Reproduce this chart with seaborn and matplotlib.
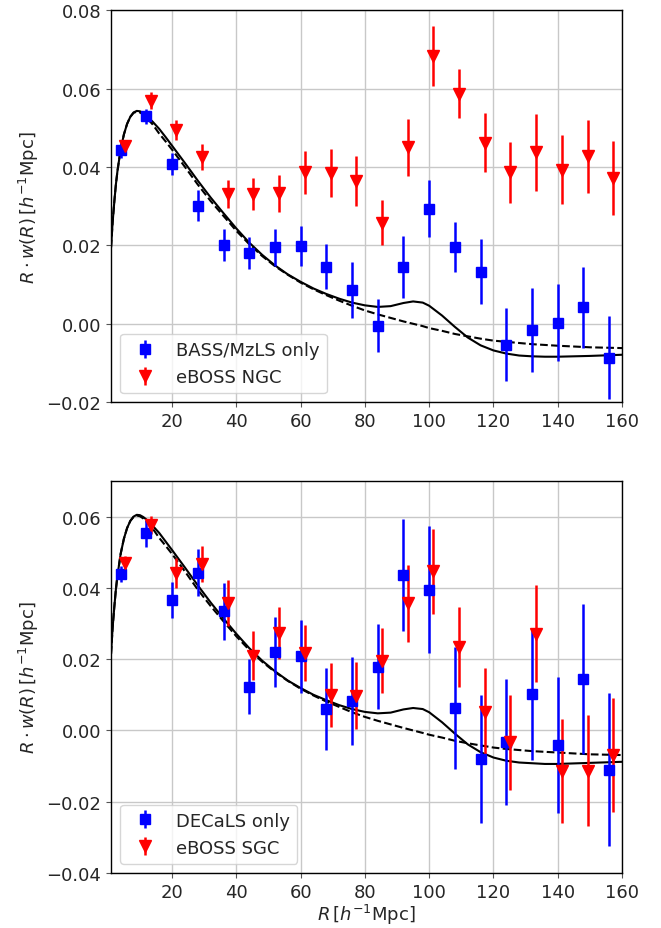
import matplotlib
matplotlib.use("Agg")
import matplotlib.pyplot as plt
import seaborn as sns
import numpy as np
import pandas as pd

# separation bins (blue points), red points are shifted slightly to the right
r_bins = [4, 12, 20, 28, 36, 44, 52, 60, 68, 76, 84, 92, 100, 108, 116, 124, 132, 140, 148, 156]
r_shift = 1.3

# top panel: BASS/MzLS only vs eBOSS NGC
bass_w = [0.0444, 0.0529, 0.0407, 0.0301, 0.0201, 0.0180, 0.0195, 0.0199, 0.0146, 0.0086,
          -0.0005, 0.0146, 0.0294, 0.0196, 0.0133, -0.0053, -0.0016, 0.0003, 0.0042, -0.0087]
bass_err = [0.0020, 0.0020, 0.0028, 0.0039, 0.0040, 0.0041, 0.0047, 0.0051, 0.0058, 0.0071,
            0.0068, 0.0079, 0.0072, 0.0064, 0.0082, 0.0093, 0.0108, 0.0098, 0.0103, 0.0106]
ngc_w = [0.0454, 0.0569, 0.0495, 0.0425, 0.0331, 0.0331, 0.0333, 0.0386, 0.0385, 0.0365,
         0.0258, 0.0450, 0.0683, 0.0587, 0.0462, 0.0386, 0.0437, 0.0393, 0.0427, 0.0371]
ngc_err = [0.0010, 0.0021, 0.0026, 0.0034, 0.0036, 0.0042, 0.0047, 0.0054, 0.0061, 0.0064,
           0.0057, 0.0072, 0.0076, 0.0062, 0.0075, 0.0077, 0.0099, 0.0088, 0.0093, 0.0094]

# bottom panel: DECaLS only vs eBOSS SGC
decals_w = [0.0439, 0.0553, 0.0366, 0.0443, 0.0334, 0.0123, 0.0219, 0.0208, 0.0060, 0.0083,
            0.0179, 0.0436, 0.0395, 0.0064, -0.0080, -0.0033, 0.0101, -0.0041, 0.0144, -0.0110]
decals_err = [0.0023, 0.0037, 0.0050, 0.0066, 0.0080, 0.0077, 0.0098, 0.0103, 0.0116, 0.0123,
              0.0119, 0.0156, 0.0178, 0.0171, 0.0180, 0.0177, 0.0184, 0.0190, 0.0211, 0.0215]
sgc_w = [0.0470, 0.0576, 0.0442, 0.0467, 0.0357, 0.0210, 0.0273, 0.0217, 0.0100, 0.0098,
         0.0196, 0.0357, 0.0446, 0.0233, 0.0053, -0.0033, 0.0272, -0.0113, -0.0113, -0.0069]
sgc_err = [0.0020, 0.0025, 0.0041, 0.0050, 0.0064, 0.0068, 0.0072, 0.0079, 0.0089, 0.0095,
           0.0092, 0.0108, 0.0119, 0.0112, 0.0122, 0.0133, 0.0137, 0.0146, 0.0155, 0.0161]

# model curves (BAO model solid, no-wiggle dashed)
r_model = [1, 1.5, 2, 2.5, 3, 4, 5, 6, 7, 8, 9, 10, 11, 12, 14, 16, 18, 20, 24, 28, 32, 36,
           40, 44, 48, 52, 56, 60, 64, 68, 72, 76, 80, 84, 88, 92, 95, 98, 100, 104, 108,
           112, 116, 120, 124, 128, 132, 136, 140, 150, 160]
top_bao = [0.0195, 0.0260, 0.0310, 0.0355, 0.0390, 0.0445, 0.0483, 0.0510, 0.0528, 0.0539,
           0.0543, 0.0542, 0.0538, 0.0531, 0.0515, 0.0497, 0.0476, 0.0454, 0.0410, 0.0365,
           0.0322, 0.0282, 0.0243, 0.0207, 0.0176, 0.0149, 0.0126, 0.0107, 0.0090, 0.0076,
           0.0064, 0.0054, 0.0047, 0.0043, 0.0045, 0.0053, 0.0057, 0.0054, 0.0046, 0.0021,
           -0.0008, -0.0035, -0.0055, -0.0068, -0.0076, -0.0081, -0.0083, -0.0084, -0.0084,
           -0.0082, -0.0079]
top_nw = [0.0195, 0.0260, 0.0310, 0.0355, 0.0390, 0.0445, 0.0483, 0.0510, 0.0528, 0.0538,
          0.0541, 0.0539, 0.0534, 0.0526, 0.0508, 0.0485, 0.0465, 0.0444, 0.0400, 0.0355,
          0.0313, 0.0275, 0.0237, 0.0203, 0.0173, 0.0147, 0.0125, 0.0105, 0.0088, 0.0073,
          0.0059, 0.0046, 0.0034, 0.0024, 0.0015, 0.0006, 0.0000, -0.0006, -0.0011, -0.0018,
          -0.0026, -0.0032, -0.0038, -0.0043, -0.0046, -0.0049, -0.0052, -0.0054, -0.0056,
          -0.0060, -0.0062]
bot_bao = [0.0215, 0.0290, 0.0345, 0.0395, 0.0435, 0.0496, 0.0538, 0.0568, 0.0588, 0.0600,
           0.0605, 0.0604, 0.0599, 0.0592, 0.0574, 0.0554, 0.0530, 0.0506, 0.0457, 0.0407,
           0.0359, 0.0314, 0.0271, 0.0231, 0.0196, 0.0166, 0.0140, 0.0119, 0.0100, 0.0085,
           0.0071, 0.0060, 0.0052, 0.0048, 0.0050, 0.0059, 0.0063, 0.0060, 0.0051, 0.0023,
           -0.0009, -0.0039, -0.0061, -0.0076, -0.0085, -0.0090, -0.0092, -0.0094, -0.0094,
           -0.0091, -0.0088]
bot_nw = [0.0215, 0.0290, 0.0345, 0.0395, 0.0435, 0.0496, 0.0538, 0.0568, 0.0588, 0.0599,
          0.0603, 0.0601, 0.0595, 0.0586, 0.0566, 0.0540, 0.0518, 0.0495, 0.0446, 0.0395,
          0.0349, 0.0306, 0.0264, 0.0226, 0.0193, 0.0164, 0.0139, 0.0117, 0.0098, 0.0081,
          0.0066, 0.0051, 0.0038, 0.0027, 0.0017, 0.0007, 0.0000, -0.0007, -0.0012, -0.0020,
          -0.0029, -0.0036, -0.0042, -0.0048, -0.0052, -0.0055, -0.0058, -0.0060, -0.0062,
          -0.0067, -0.0069]

sns.set_style("ticks")
plt.rcParams['font.family'] = ['DejaVu Sans']
plt.rcParams['font.size'] = 13

fig = plt.figure(figsize=(6.61, 9.29), dpi=100)
ax_top = fig.add_axes([0.168, 0.566, 0.773, 0.422])
ax_bot = fig.add_axes([0.168, 0.0592, 0.773, 0.422])

panels = [
    (ax_top, bass_w, bass_err, ngc_w, ngc_err, top_bao, top_nw,
     'BASS/MzLS only', 'eBOSS NGC', (-0.02, 0.08), np.arange(-0.02, 0.081, 0.02)),
    (ax_bot, decals_w, decals_err, sgc_w, sgc_err, bot_bao, bot_nw,
     'DECaLS only', 'eBOSS SGC', (-0.04, 0.07), np.arange(-0.04, 0.061, 0.02)),
]

r_red = [r + r_shift for r in r_bins]

for ax, bw, be, rw, re, bao, nw, lab_b, lab_r, ylim, yticks in panels:
    curves = pd.DataFrame({'R': r_model, 'bao': bao, 'nw': nw})
    sns.lineplot(data=curves, x='R', y='bao', ax=ax, color='black', lw=1.5, zorder=3)
    sns.lineplot(data=curves, x='R', y='nw', ax=ax, color='black', lw=1.5,
                 linestyle='--', zorder=3)
    ax.errorbar(r_bins, bw, yerr=be, fmt='s', color='blue', ms=7, elinewidth=1.8,
                capsize=0, label=lab_b, zorder=4)
    ax.errorbar(r_red, rw, yerr=re, fmt='v', color='red', ms=8, elinewidth=1.8,
                capsize=0, label=lab_r, zorder=4)
    ax.set_xlim(1, 160)
    ax.set_ylim(*ylim)
    ax.set_xticks(np.arange(20, 161, 20))
    ax.set_yticks(yticks)
    ax.set_yticklabels([f'{t:.2f}'.replace('-', '\u2212') for t in yticks])
    ax.grid(True, color='#c8c8c8', lw=1.0)
    for s in ax.spines.values():
        s.set_color('black')
        s.set_linewidth(1.0)
    ax.tick_params(labelsize=13, color='#555555')
    ax.set_ylabel(r'$R\cdot w(R)\,[h^{-1}\mathrm{Mpc}]$', fontsize=13)
    ax.set_xlabel('')
    ax.legend(loc='lower left', fontsize=13, handletextpad=0.7, borderpad=0.4)

ax_bot.set_xlabel(r'$R\,[h^{-1}\mathrm{Mpc}]$', fontsize=13, labelpad=1)

fig.savefig('out.png', dpi=100)
